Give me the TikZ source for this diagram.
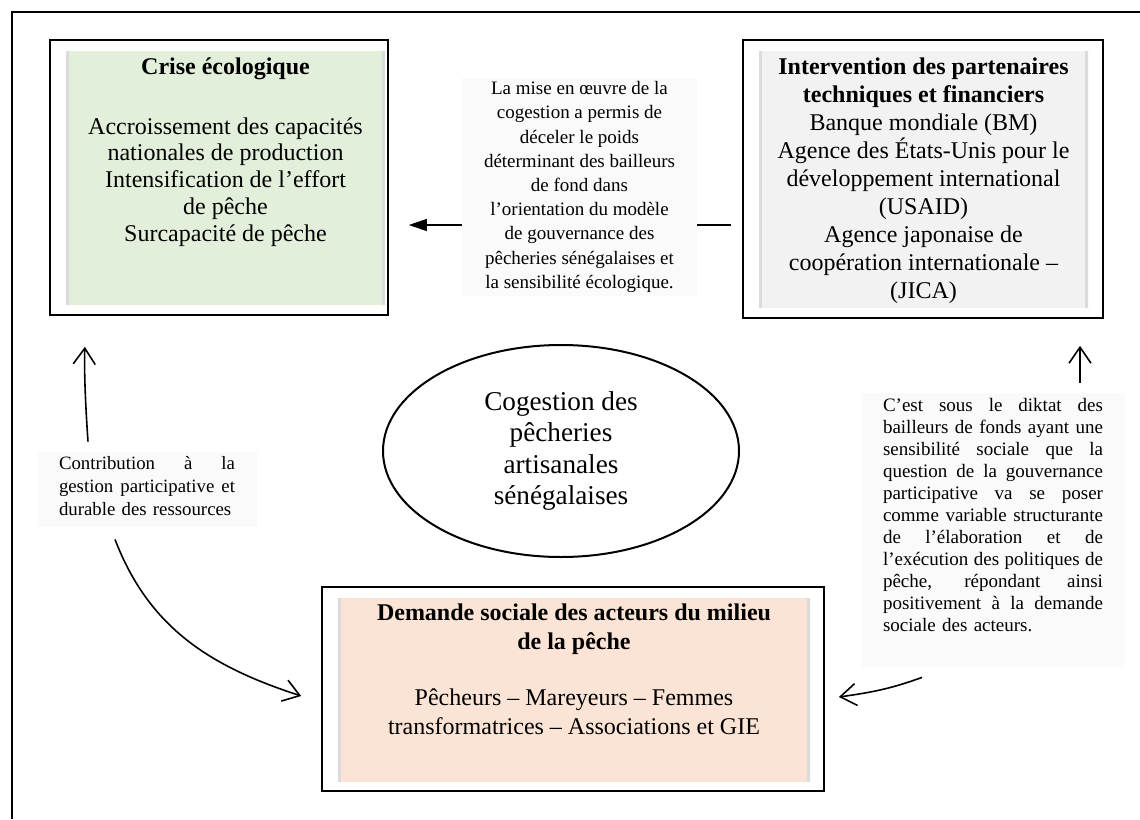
\documentclass[tikz,border=0pt]{standalone}
\usepackage{fontspec}
\setmainfont{Liberation Serif}
\usepackage{tikz}
\usetikzlibrary{arrows.meta, positioning, shapes.geometric}

\definecolor{crisegreen}{HTML}{E2EFDA}
\definecolor{ptfgray}{HTML}{F2F2F2}
\definecolor{demandepeach}{HTML}{FBE4D5}
\definecolor{notegray}{HTML}{FAFAFA}

% one justified line of a note
\newcommand{\jl}[2][110pt]{\leavevmode\hbox to #1{\spaceskip=0.25em plus 1fil\relax #2}}

\begin{document}
\begin{tikzpicture}[x=0.5pt, y=-0.5pt,
        outerbox/.style={draw, line width=0.8pt, fill=white, inner sep=0pt},
        shadebox/.style={draw=none, inner sep=0pt, path picture={
            \draw[black!14, line width=3pt] (path picture bounding box.north west) -- (path picture bounding box.south west);
            \draw[black!14, line width=3pt] (path picture bounding box.north east) -- (path picture bounding box.south east);}},
        boxtext/.style={align=center, inner sep=0pt, font=\fontsize{12}{13.4}\selectfont},
        notebox/.style={fill=notegray, inner sep=0pt},
        notetext/.style={align=left, inner sep=0pt, font=\fontsize{9.5}{11}\selectfont},
        opentip/.style={-{Straight Barb[length=8pt, width=11pt]}, line width=0.8pt},
        solidtip/.style={-{Triangle[length=9pt, width=6pt]}, line width=0.6pt},
    ]
    \useasboundingbox (0,0) rectangle (1140,819);
    % frame of the figure
    \draw[line width=1.3pt] (12,819) -- (12,12) -- (1140,12);

    \node[outerbox, minimum width=169pt, minimum height=137.5pt] (crise) at (219,177.5) {};
    \node[shadebox, fill=crisegreen, minimum width=159.5pt, minimum height=127pt] (crisefill) at (225.5,178) {};
    \node[boxtext, anchor=north] (crisetxt) at (225.5,57) {\textbf{Crise écologique}\\[16.6pt]
        Accroissement des capacités\\ nationales de production\\
        Intensification de l’effort\\ de pêche\\ Surcapacité de pêche};

    \node[outerbox, minimum width=180pt, minimum height=139pt] (ptf) at (923,179) {};
    \node[shadebox, fill=ptfgray, minimum width=164.5pt, minimum height=128.5pt] (ptffill) at (923.5,179.5) {};
    \node[boxtext, font=\fontsize{12}{14.05}\selectfont, anchor=north] (ptftxt) at (923.5,57) {%
        \textbf{Intervention des partenaires}\\ \textbf{techniques et financiers}\\
        Banque mondiale (BM)\\ Agence des États-Unis pour le\\ développement international\\
        (USAID)\\ Agence japonaise de\\ coopération internationale –\\ (JICA)};

    \node[outerbox, minimum width=251pt, minimum height=102pt] (demande) at (573,689) {};
    \node[shadebox, fill=demandepeach, minimum width=236pt, minimum height=92pt] (demandefill) at (574,690) {};
    \node[boxtext, font=\fontsize{12}{14.5}\selectfont, anchor=north] (demandetxt) at (574,603) {%
        \textbf{Demande sociale des acteurs du milieu}\\ \textbf{de la pêche}\\[13.5pt]
        Pêcheurs – Mareyeurs – Femmes\\ transformatrices – Associations et GIE};

    \node[ellipse, draw, line width=1pt, minimum width=178pt, minimum height=106pt, inner sep=0pt,
        align=center, font=\fontsize{13.6}{15.8}\selectfont] (cogestion) at (561,451)
        {Cogestion des\\ pêcheries\\ artisanales\\ sénégalaises};

    \node[notebox, minimum width=117.5pt, minimum height=109pt, align=center,
        font=\fontsize{9.5}{12.1}\selectfont] (cogenote) at (579.5,187) {%
        La mise en œuvre de la\\ cogestion a permis de\\ déceler le poids\\
        déterminant des bailleurs\\ de fond dans\\ l’orientation du modèle\\
        de gouvernance des\\ pêcheries sénégalaises et\\ la sensibilité écologique.};

    \node[notebox, minimum width=109.5pt, minimum height=37.5pt] (contrib) at (147.5,489.5) {};
    \node[notetext, text width=88pt, font=\fontsize{9.4}{11.5}\selectfont] (contribtxt) at (147,486) {%
        \jl[88pt]{Contribution à la}\\ \jl[88pt]{gestion participative et}\\ durable des ressources};

    \node[notebox, minimum width=131.5pt, minimum height=137pt] (diktat) at (993.5,530) {};
    \node[notetext, text width=110pt, anchor=north] (diktattxt) at (993,398) {%
        \jl{C’est sous le diktat des}\\ \jl{bailleurs de fonds ayant une}\\
        \jl{sensibilité sociale que la}\\ \jl{question de la gouvernance}\\
        \jl{participative va se poser}\\ \jl{comme variable structurante}\\
        \jl{de l’élaboration et de}\\ \jl{l’exécution des politiques de}\\
        \jl{pêche, répondant ainsi}\\ \jl{positivement à la demande}\\
        sociale des acteurs.};

    \draw[solidtip, shorten >=10pt] ([yshift=-19pt]cogenote.west) -- ([yshift=-23.75pt]crise.east);
    \draw[line width=0.6pt, shorten >=5.5pt] ([yshift=-19pt]cogenote.east) -- ([yshift=-23pt]ptf.west);

    \draw[opentip, shorten >=15.5pt] ([xshift=-29.75pt, yshift=5pt]contrib.north) to[bend left=3] ([xshift=-66.5pt]crise.south);
    \draw[opentip] ([xshift=-16.25pt, yshift=-6pt]contrib.south) to[out=-69, in=162] ([xshift=-10pt, yshift=-3.5pt]demande.west);

    \draw[opentip, shorten >=13.5pt] ([xshift=43.25pt, yshift=5pt]diktat.north) -- ([xshift=78.5pt]ptf.south);
    \draw[opentip] ([xshift=-35.75pt, yshift=-5pt]diktat.south) to[out=200, in=8] ([xshift=7pt, yshift=-4pt]demande.east);

\end{tikzpicture}
\end{document}
